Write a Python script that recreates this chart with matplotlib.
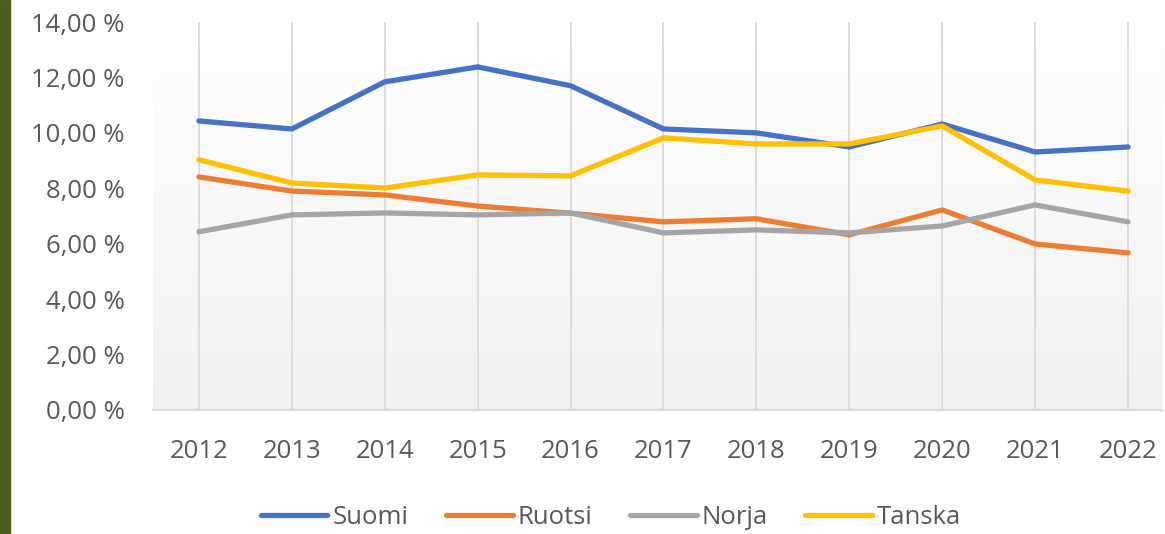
import numpy as np
import matplotlib
matplotlib.use('Agg')
import matplotlib.pyplot as plt
from matplotlib.patches import Rectangle
from matplotlib.ticker import FuncFormatter

years = [2012, 2013, 2014, 2015, 2016, 2017, 2018, 2019, 2020, 2021, 2022]
suomi = [10.43, 10.14, 11.84, 12.38, 11.70, 10.14, 10.00, 9.49, 10.32, 9.31, 9.49]
ruotsi = [8.41, 7.90, 7.76, 7.36, 7.10, 6.79, 6.90, 6.32, 7.22, 5.99, 5.67]
norja = [6.43, 7.04, 7.11, 7.04, 7.11, 6.39, 6.50, 6.39, 6.64, 7.40, 6.79]
tanska = [9.03, 8.19, 8.01, 8.48, 8.45, 9.82, 9.60, 9.60, 10.25, 8.30, 7.90]

series = [('Suomi', suomi, '#4472C4'), ('Ruotsi', ruotsi, '#ED7D31'),
          ('Norja', norja, '#A5A5A5'), ('Tanska', tanska, '#FFC000')]

plt.rcParams['font.family'] = ['Open Sans', 'DejaVu Sans']
txt = '#595959'

fig = plt.figure(figsize=(11.65, 5.34), dpi=100)
fig.patches.append(Rectangle((0, 0), 10 / 1165, 1, transform=fig.transFigure,
                             color='#4B5E1A', zorder=0))

ax = fig.add_axes([152.5 / 1165, 1 - 410 / 534, (1162 - 152.5) / 1165, 388 / 534])
ax.set_xlim(2011.5, 2022.366)
ax.set_ylim(0, 14)

# vertical gradient, white at top to light grey at bottom
grad = np.linspace(1, 0, 256).reshape(-1, 1)
top = np.array([1.0, 1.0, 1.0])
bot = np.array([0xf1, 0xf1, 0xf1]) / 255
img = top * grad[..., None] + bot * (1 - grad[..., None])
ax.imshow(img, extent=[2011.5, 2022.366, 0, 14], aspect='auto', zorder=0)

for y in years:
    ax.axvline(y, color='#D9D9D9', lw=1.3, zorder=1)

for name, vals, col in series:
    ax.plot(years, vals, color=col, lw=3.8, label=name, zorder=3,
            solid_capstyle='round', solid_joinstyle='round')

for s in ['top', 'right', 'left']:
    ax.spines[s].set_visible(False)
ax.spines['bottom'].set_color('#D9D9D9')
ax.spines['bottom'].set_linewidth(1.5)

ax.set_xticks(years)
ax.set_yticks(np.arange(0, 15, 2))
ax.yaxis.set_major_formatter(FuncFormatter(lambda v, p: f'{v:.2f}'.replace('.', ',') + ' %'))
ax.tick_params(axis='both', length=0, colors=txt, labelsize=18.5)
ax.tick_params(axis='y', pad=20)
ax.tick_params(axis='x', pad=21)

fig.legend(loc='center', bbox_to_anchor=(611 / 1165, 1 - 517 / 534), ncol=4,
           frameon=False, fontsize=18.5, labelcolor=txt, handlelength=2.6,
           handletextpad=0.2, columnspacing=1.45)

fig.savefig('out.png', dpi=100, facecolor='white')
